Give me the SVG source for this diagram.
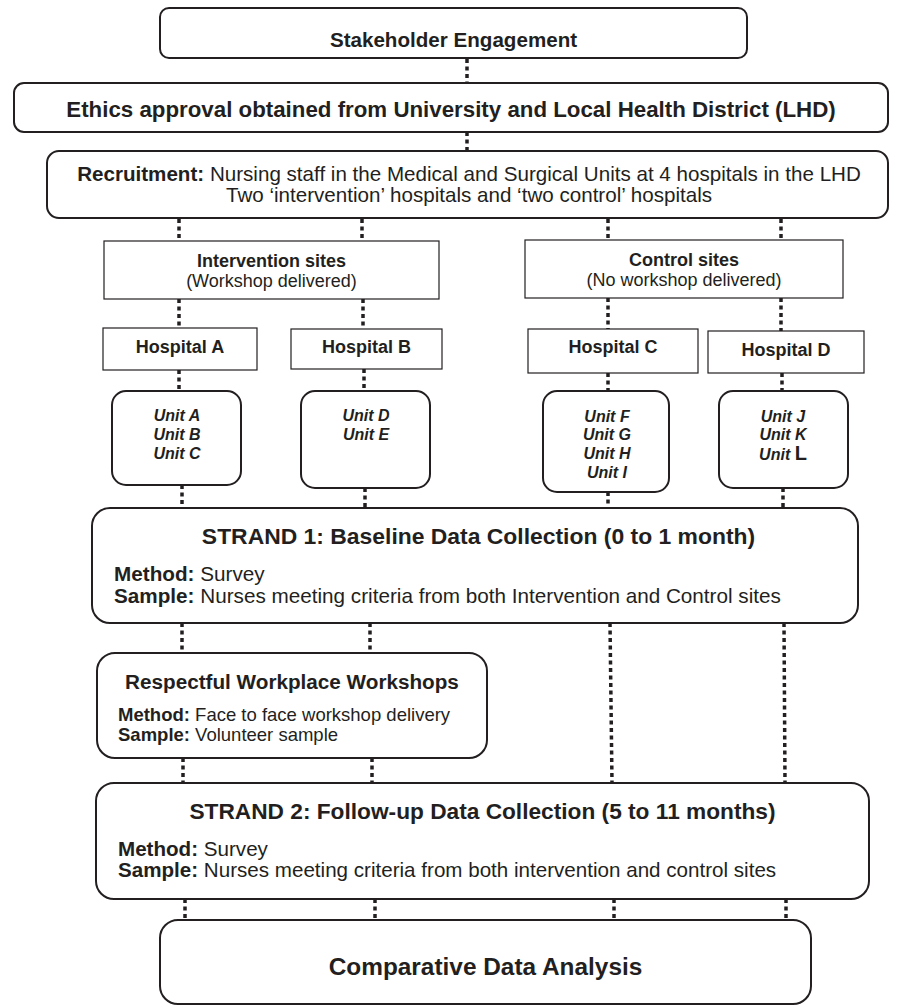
<svg xmlns="http://www.w3.org/2000/svg" width="898" height="1005" viewBox="0 0 898 1005">
<style>
text{font-family:"Liberation Sans",Arial,sans-serif;fill:#231f20}
.b{font-weight:bold}
.rb{fill:#fff;stroke:#231f20;stroke-width:2}
.sq{fill:#fff;stroke:#231f20;stroke-width:1.2}
.c{stroke:#231f20;stroke-width:3.5;stroke-dasharray:4 3.5;fill:none}
.u{font-weight:bold;font-style:italic;font-size:16px}
.m{text-anchor:middle}
</style>
<rect width="898" height="1005" fill="#fff"/>
<g id="connectors">
<line class="c" x1="467" y1="59" x2="467" y2="83"/>
<line class="c" x1="467" y1="132" x2="467" y2="151"/>
<line class="c" x1="179" y1="219" x2="179" y2="241"/>
<line class="c" x1="362" y1="219" x2="362" y2="241"/>
<line class="c" x1="608" y1="219" x2="608" y2="240"/>
<line class="c" x1="781" y1="219" x2="781" y2="240"/>
<line class="c" x1="179" y1="299" x2="179" y2="328"/>
<line class="c" x1="363" y1="299" x2="363" y2="329"/>
<line class="c" x1="608" y1="298" x2="608" y2="329"/>
<line class="c" x1="781" y1="298" x2="781" y2="331"/>
<line class="c" x1="179" y1="370" x2="179" y2="391"/>
<line class="c" x1="364" y1="369" x2="364" y2="391"/>
<line class="c" x1="608" y1="373" x2="608" y2="391"/>
<line class="c" x1="782" y1="373" x2="782" y2="391"/>
<line class="c" x1="182" y1="485" x2="182" y2="508"/>
<line class="c" x1="365" y1="488" x2="365" y2="508"/>
<line class="c" x1="608" y1="492" x2="608" y2="508"/>
<line class="c" x1="783" y1="488" x2="783" y2="508"/>
<line class="c" x1="182" y1="623" x2="182" y2="653"/>
<line class="c" x1="370" y1="623" x2="370" y2="653"/>
<line class="c" x1="610" y1="623" x2="612" y2="783"/>
<line class="c" x1="784" y1="623" x2="785" y2="783"/>
<line class="c" x1="183" y1="758" x2="183" y2="783"/>
<line class="c" x1="372" y1="758" x2="372" y2="783"/>
<line class="c" x1="185" y1="899" x2="185" y2="920"/>
<line class="c" x1="375" y1="899" x2="375" y2="920"/>
<line class="c" x1="614" y1="899" x2="614" y2="920"/>
<line class="c" x1="786" y1="899" x2="786" y2="920"/>
</g>
<g id="stakeholder">
<rect class="rb" x="160" y="8" width="587" height="50" rx="9"/>
<text class="b m" x="453.5" y="46.5" font-size="20.6">Stakeholder Engagement</text>
</g>
<g id="ethics">
<rect class="rb" x="14" y="83" width="874" height="49" rx="10"/>
<text class="b m" x="451" y="117" font-size="22.3">Ethics approval obtained from University and Local Health District (LHD)</text>
</g>
<g id="recruitment">
<rect class="rb" x="47" y="151" width="841" height="67" rx="12"/>
<text class="m" x="469" y="180.5" font-size="20.6"><tspan font-weight="bold">Recruitment:</tspan> Nursing staff in the Medical and Surgical Units at 4 hospitals in the LHD</text>
<text class="m" x="469" y="201.5" font-size="20.6">Two ‘intervention’ hospitals and ‘two control’ hospitals</text>
</g>
<g id="intervention-sites">
<rect class="sq" x="104" y="241" width="335" height="58"/>
<text class="b m" x="271.5" y="267" font-size="18">Intervention sites</text>
<text class="m" x="271.5" y="286.5" font-size="18">(Workshop delivered)</text>
</g>
<g id="control-sites">
<rect class="sq" x="525" y="240" width="318" height="58"/>
<text class="b m" x="684" y="266" font-size="18">Control sites</text>
<text class="m" x="684" y="285.5" font-size="18">(No workshop delivered)</text>
</g>
<g id="hospital-a">
<rect class="sq" x="103" y="328" width="154" height="42"/>
<text class="b m" x="180" y="353" font-size="18">Hospital A</text>
</g>
<g id="hospital-b">
<rect class="sq" x="291" y="329" width="151" height="40"/>
<text class="b m" x="366.5" y="353" font-size="18">Hospital B</text>
</g>
<g id="hospital-c">
<rect class="sq" x="528" y="329" width="170" height="44"/>
<text class="b m" x="613" y="353" font-size="18">Hospital C</text>
</g>
<g id="hospital-d">
<rect class="sq" x="708" y="331" width="156" height="42"/>
<text class="b m" x="786" y="356" font-size="18">Hospital D</text>
</g>
<g id="units-abc">
<rect class="rb" x="112" y="391" width="129" height="94" rx="14"/>
<text class="u m" x="177" y="421">Unit A</text>
<text class="u m" x="177" y="440">Unit B</text>
<text class="u m" x="177" y="459">Unit C</text>
</g>
<g id="units-de">
<rect class="rb" x="301" y="391" width="129" height="97" rx="14"/>
<text class="u m" x="366" y="421">Unit D</text>
<text class="u m" x="366" y="440">Unit E</text>
</g>
<g id="units-fghi">
<rect class="rb" x="543" y="391" width="126" height="101" rx="14"/>
<text class="u m" x="607" y="422">Unit F</text>
<text class="u m" x="607" y="440">Unit G</text>
<text class="u m" x="607" y="459">Unit H</text>
<text class="u m" x="607" y="478">Unit I</text>
</g>
<g id="units-jkl">
<rect class="rb" x="719" y="391" width="129" height="97" rx="14"/>
<text class="u m" x="783" y="422">Unit J</text>
<text class="u m" x="783" y="440">Unit K</text>
<text class="u m" x="783" y="460">Unit <tspan font-style="normal" font-size="20">L</tspan></text>
</g>
<g id="strand1">
<rect class="rb" x="92" y="508" width="766" height="115" rx="18"/>
<text class="b m" x="478.5" y="544" font-size="22.9">STRAND 1: Baseline Data Collection (0 to 1 month)</text>
<text x="114" y="581" font-size="20.7"><tspan font-weight="bold">Method:</tspan> Survey</text>
<text x="114" y="603" font-size="20.7"><tspan font-weight="bold">Sample:</tspan> Nurses meeting criteria from both Intervention and Control sites</text>
</g>
<g id="workshops">
<rect class="rb" x="97" y="653" width="390" height="105" rx="18"/>
<text class="b m" x="292" y="688.5" font-size="20.7">Respectful Workplace Workshops</text>
<text x="118" y="721" font-size="18.5"><tspan font-weight="bold">Method:</tspan> Face to face workshop delivery</text>
<text x="118" y="741" font-size="18.5"><tspan font-weight="bold">Sample:</tspan> Volunteer sample</text>
</g>
<g id="strand2">
<rect class="rb" x="96" y="783" width="773" height="116" rx="18"/>
<text class="b m" x="482.5" y="819" font-size="22.7">STRAND 2: Follow-up Data Collection (5 to 11 months)</text>
<text x="118" y="856" font-size="20.6"><tspan font-weight="bold">Method:</tspan> Survey</text>
<text x="118" y="877" font-size="20.6"><tspan font-weight="bold">Sample:</tspan> Nurses meeting criteria from both intervention and control sites</text>
</g>
<g id="comparative">
<rect class="rb" x="160" y="920" width="651" height="84" rx="18"/>
<text class="b m" x="485.5" y="974.5" font-size="24.4">Comparative Data Analysis</text>
</g>
</svg>
